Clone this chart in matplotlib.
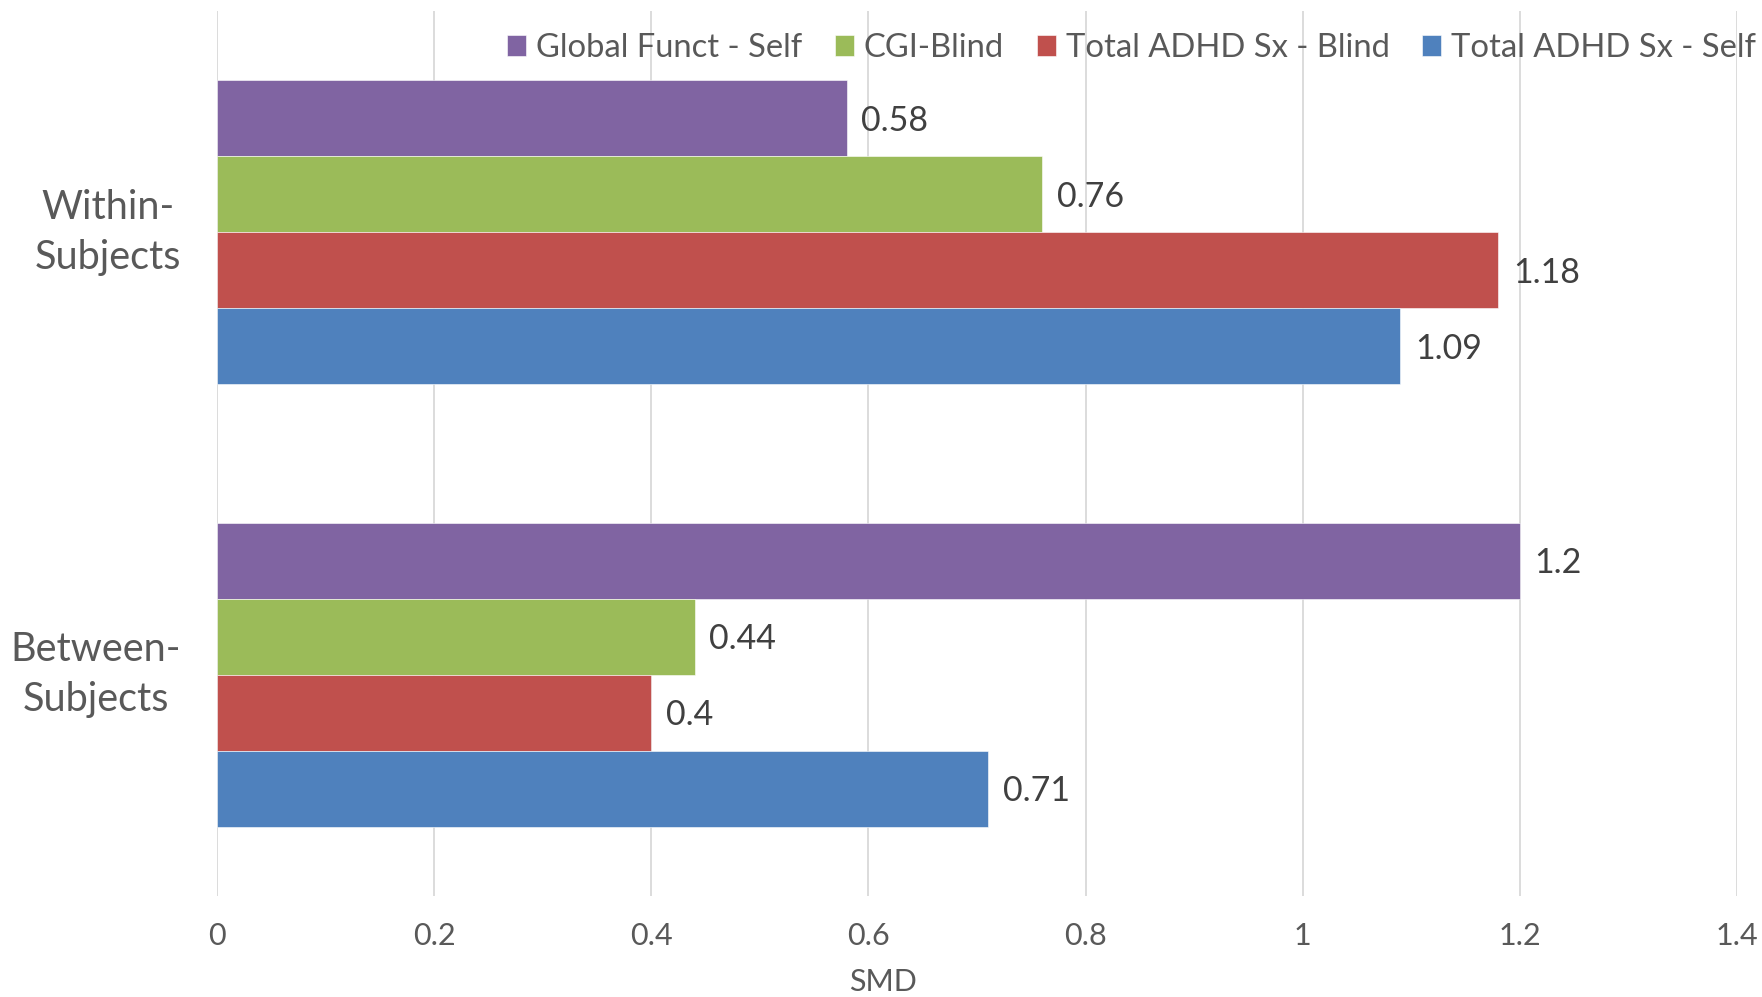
import numpy as np
import matplotlib
matplotlib.use("Agg")
import matplotlib.pyplot as plt

plt.rcParams['font.family'] = ['Lato', 'DejaVu Sans']

# effect sizes per design and outcome
categories = ["Within-\nSubjects", "Between-\nSubjects"]
series_names = ["Global Funct - Self", "CGI-Blind",
                "Total ADHD Sx - Blind", "Total ADHD Sx - Self"]
global_funct_self = [0.58, 1.2]
cgi_blind = [0.76, 0.44]
adhd_blind = [1.18, 0.4]
adhd_self = [1.09, 0.71]
colors = ["#8064A2", "#9BBB59", "#C0504D", "#4F81BD"]
xticks = [0, 0.2, 0.4, 0.6, 0.8, 1, 1.2, 1.4]
xtick_labels = ["0", "0.2", "0.4", "0.6", "0.8", "1", "1.2", "1.4"]

text_color = "#595959"

fig = plt.figure(figsize=(17.62, 9.97), dpi=100)
ax = fig.add_axes([0.1232, 0.1013, 0.8626, 0.8877])

values = [global_funct_self, cgi_blind, adhd_blind, adhd_self]
y_base = np.array([1.0, 0.0])
h = 1.0 / (4 + 1.82)
offsets = [1.5 * h, 0.5 * h, -0.5 * h, -1.5 * h]

handles = []
for vals, col, off, name in zip(values, colors, offsets, series_names):
    bars = ax.barh(y_base + off, vals, height=h, color=col,
                   edgecolor="white", linewidth=0.4, label=name, zorder=3)
    handles.append(bars)
    for yy, v in zip(y_base + off, vals):
        ax.text(v + 0.0135, yy - 0.006, f"{v:g}", va="center", ha="left",
                fontsize=24.5, color="#404040", zorder=4)

ax.set_xlim(0, 1.4)
ax.set_ylim(-0.5, 1.5)
ax.set_xticks(xticks)
ax.set_xticklabels(xtick_labels, fontsize=22, color=text_color)
ax.set_yticks([])
ax.grid(axis="x", color="#d9d9d9", linewidth=1.3, zorder=0)
for s in ax.spines.values():
    s.set_visible(False)
ax.tick_params(axis="x", length=0, pad=19)

# axis title sits centred on the whole figure, not on the plot area
fig.text(883 / 1762, 1 - 982 / 997, "SMD", ha="center", va="center",
         fontsize=22, color=text_color)

# category labels, centered lines right-aligned against the axis
for yy, lab in zip(y_base, categories):
    ax.text(-0.0335, yy, lab, ha="right", va="center", multialignment="center",
            fontsize=28.5, color=text_color, linespacing=1.42)

fig.legend(handles=handles, labels=series_names, loc="center right",
           bbox_to_anchor=(1756 / 1762, 1 - 48 / 997), ncol=4, frameon=False,
           fontsize=23.6, handlelength=0.58, handleheight=0.58,
           handletextpad=0.3, columnspacing=1.0, labelcolor=text_color,
           borderaxespad=0.0, borderpad=0.0)

fig.savefig("out.png", dpi=100, facecolor="white")
